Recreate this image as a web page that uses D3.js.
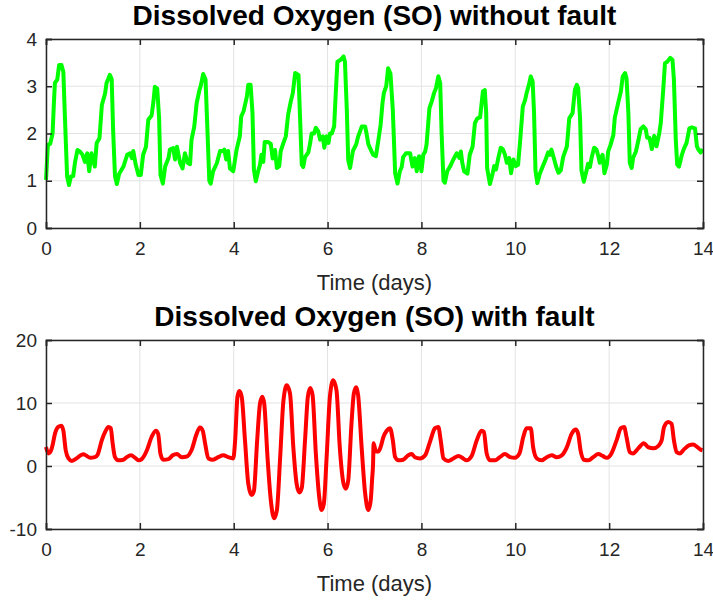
<!DOCTYPE html>
<html>
<head>
<meta charset="utf-8">
<script src="https://cdn.jsdelivr.net/npm/d3@7"></script>
<style>
  body { margin: 0; background: #fff; }
  text { font-family: "Liberation Sans", Arial, sans-serif; fill: #262626; }
</style>
</head>
<body>
<svg id="chart" width="713" height="600"></svg>
<script>
// time (days) and SO values
const normalDays = [0.00,0.04,0.09,0.14,0.17,0.19,0.24,0.28,0.33,0.37,0.40,0.45,0.49,0.53,0.58,0.62,0.67,0.72,0.78,0.83,0.88,0.92,0.97,1.04,1.08,1.14,1.19,1.26,1.29,1.36,1.40,1.43,1.47,1.51,1.56,1.65,1.73,1.79,1.83,1.86,1.91,1.97,2.02,2.07,2.13,2.18,2.25,2.29,2.32,2.37,2.41,2.44,2.49,2.54,2.61,2.64,2.71,2.75,2.79,2.86,2.91,2.96,3.02,3.07,3.10,3.16,3.21,3.27,3.30,3.35,3.40,3.44,3.48,3.51,3.56,3.64,3.71,3.77,3.80,3.84,3.88,3.92,3.99,4.06,4.13,4.16,4.21,4.28,4.31,4.36,4.40,4.43,4.47,4.52,4.56,4.59,4.63,4.66,4.73,4.79,4.83,4.88,4.92,4.97,5.00,5.06,5.11,5.16,5.21,5.26,5.31,5.38,5.41,5.45,5.48,5.52,5.59,5.63,5.66,5.71,5.75,5.80,5.84,5.90,5.93,5.98,6.02,6.05,6.09,6.14,6.18,6.21,6.28,6.34,6.37,6.41,6.44,6.48,6.54,6.61,6.65,6.73,6.80,6.83,6.87,6.92,6.97,7.03,7.08,7.13,7.17,7.20,7.25,7.29,7.34,7.39,7.44,7.49,7.54,7.58,7.61,7.67,7.76,7.81,7.86,7.90,7.95,8.00,8.04,8.08,8.11,8.17,8.22,8.27,8.31,8.36,8.40,8.43,8.47,8.50,8.55,8.61,8.68,8.75,8.81,8.84,8.87,8.91,8.98,9.03,9.09,9.14,9.19,9.25,9.31,9.35,9.38,9.40,9.46,9.51,9.55,9.59,9.64,9.69,9.74,9.78,9.82,9.87,9.91,9.96,10.01,10.06,10.10,10.16,10.21,10.24,10.29,10.33,10.37,10.40,10.43,10.47,10.52,10.58,10.65,10.70,10.74,10.77,10.83,10.87,10.92,10.97,11.02,11.10,11.15,11.22,11.27,11.31,11.34,11.38,11.41,11.46,11.52,11.55,11.59,11.63,11.68,11.73,11.77,11.80,11.86,11.90,11.95,11.98,12.03,12.09,12.12,12.20,12.25,12.29,12.34,12.37,12.41,12.44,12.48,12.51,12.57,12.62,12.67,12.73,12.78,12.81,12.86,12.91,12.96,13.01,13.07,13.10,13.15,13.19,13.24,13.30,13.35,13.38,13.42,13.45,13.49,13.55,13.59,13.65,13.71,13.76,13.83,13.87,13.90,13.95,13.99];
const normalSO = [1.02,1.76,1.78,2.00,2.68,3.07,3.14,3.45,3.45,3.30,2.43,1.09,0.91,1.09,1.10,1.40,1.65,1.62,1.55,1.40,1.58,1.20,1.58,1.30,1.80,1.90,2.60,2.85,3.07,3.24,3.15,2.07,1.10,0.93,1.15,1.30,1.55,1.58,1.48,1.63,1.35,1.12,1.12,1.55,1.72,2.29,2.38,2.68,2.99,2.95,2.33,1.12,0.94,1.30,1.48,1.66,1.69,1.45,1.72,1.37,1.26,1.58,1.38,1.35,1.86,2.15,2.64,2.92,3.02,3.26,3.14,2.07,1.00,0.94,1.20,1.37,1.63,1.63,1.66,1.45,1.63,1.26,1.20,1.65,1.94,2.36,2.47,2.78,3.03,3.03,2.43,1.24,0.99,1.20,1.34,1.55,1.40,1.82,1.82,1.78,1.47,1.65,1.27,1.31,1.62,1.80,1.94,2.40,2.65,2.86,3.28,3.24,2.43,1.34,1.29,1.50,1.60,1.80,2.00,2.00,2.12,2.05,1.87,1.94,1.70,1.94,1.80,2.00,2.00,2.15,2.96,3.52,3.56,3.63,3.52,2.50,1.44,1.27,1.63,1.77,1.93,2.15,2.15,2.00,1.77,1.66,1.55,1.52,1.84,2.18,2.64,2.86,3.00,3.38,3.27,2.50,1.16,0.94,1.20,1.29,1.50,1.58,1.58,1.30,1.48,1.20,1.52,1.20,1.55,1.62,1.77,2.53,2.68,2.86,2.96,3.21,3.07,2.00,1.00,0.96,1.20,1.30,1.45,1.58,1.48,1.62,1.38,1.20,1.15,1.55,1.72,2.22,2.32,2.34,2.89,2.92,2.44,1.27,0.93,1.12,1.31,1.24,1.49,1.70,1.66,1.55,1.38,1.48,1.16,1.45,1.31,1.34,1.80,2.57,2.71,2.85,3.03,3.21,3.10,2.43,1.22,0.95,1.14,1.29,1.46,1.60,1.55,1.66,1.45,1.30,1.17,1.22,1.50,1.73,2.32,2.43,2.92,3.03,2.96,2.33,1.22,0.98,1.22,1.36,1.29,1.50,1.70,1.66,1.52,1.38,1.55,1.16,1.34,1.62,1.76,1.97,2.33,2.68,2.89,3.21,3.28,3.17,2.43,1.38,1.27,1.48,1.62,1.84,2.09,2.15,2.09,1.91,1.91,1.67,1.95,1.73,2.02,2.22,2.89,3.49,3.52,3.60,3.56,3.14,1.87,1.34,1.30,1.55,1.67,1.80,2.11,2.13,2.11,1.73,1.66,1.60,1.67];

const faultDays = [0.00,0.05,0.09,0.14,0.19,0.26,0.33,0.37,0.42,0.48,0.55,0.65,0.72,0.79,0.87,0.94,1.04,1.10,1.19,1.26,1.33,1.38,1.42,1.47,1.54,1.65,1.72,1.81,1.90,1.97,2.04,2.15,2.25,2.34,2.39,2.44,2.50,2.61,2.70,2.79,2.89,3.00,3.10,3.21,3.28,3.34,3.39,3.46,3.56,3.67,3.78,3.88,3.99,4.03,4.08,4.12,4.17,4.24,4.31,4.38,4.43,4.50,4.56,4.61,4.65,4.72,4.79,4.86,4.92,4.99,5.06,5.13,5.20,5.27,5.34,5.40,5.45,5.52,5.58,5.63,5.68,5.75,5.82,5.87,5.92,5.98,6.05,6.12,6.19,6.26,6.34,6.39,6.44,6.51,6.56,6.61,6.65,6.73,6.80,6.87,6.92,6.95,6.97,6.98,7.03,7.08,7.13,7.19,7.26,7.33,7.39,7.44,7.51,7.61,7.72,7.79,7.86,7.97,8.08,8.18,8.29,8.36,8.41,8.47,8.57,8.68,8.79,8.89,8.96,9.07,9.18,9.28,9.33,9.39,9.46,9.57,9.67,9.78,9.89,9.99,10.09,10.17,10.24,10.33,10.38,10.46,10.56,10.67,10.78,10.88,10.99,11.10,11.20,11.29,11.34,11.39,11.46,11.56,11.66,11.77,11.86,11.95,12.05,12.16,12.25,12.32,12.37,12.44,12.51,12.62,12.74,12.83,12.94,13.05,13.12,13.17,13.26,13.33,13.38,13.44,13.51,13.59,13.71,13.79,13.88,13.95,13.99];
const faultSO = [3.0,2.0,2.2,3.3,5.1,6.2,6.4,5.6,2.5,1.2,0.8,1.2,1.6,1.86,1.6,1.3,1.4,1.8,4.1,5.4,6.2,6.0,3.6,1.4,0.9,1.0,1.4,1.7,1.3,0.9,1.1,2.5,4.6,5.6,5.1,1.9,1.0,1.1,1.7,1.9,1.4,1.5,2.5,5.1,6.1,5.6,3.6,1.2,1.0,1.4,1.7,1.4,1.2,4.0,11.0,11.9,11.0,4.1,-2.8,-4.6,-4.0,4.1,9.9,11.0,9.9,1.4,-5.4,-8.3,-7.0,1.4,10.4,12.8,11.5,3.0,-2.8,-4.2,-3.5,4.1,11.0,12.4,11.3,2.0,-4.8,-7.0,-6.0,1.4,11.0,13.6,12.0,3.0,-2.8,-3.6,-2.3,6.8,11.5,12.5,11.3,2.5,-4.3,-7.0,-5.4,-2.0,0.5,3.6,2.3,2.3,3.0,4.6,5.6,6.0,4.1,1.4,0.9,1.0,1.7,1.9,1.4,1.2,1.7,3.8,6.0,6.2,4.1,1.2,0.8,1.2,1.6,1.2,0.9,1.6,4.1,5.6,5.4,2.0,0.9,0.9,1.4,1.9,1.4,1.3,2.0,4.6,6.0,6.0,3.0,1.2,0.9,1.4,1.7,1.4,1.7,3.0,5.1,5.8,5.1,2.5,1.0,0.9,1.4,1.9,1.6,1.3,2.0,4.1,6.0,6.2,4.6,2.2,2.0,2.8,3.6,3.0,2.8,3.2,4.1,6.2,7.0,6.7,4.1,2.2,2.0,2.6,3.3,3.4,3.0,2.6,2.5];

const xTicks = [0, 2, 4, 6, 8, 10, 12, 14];
const topYTicks = [0, 1, 2, 3, 4];
const botYTicks = [-10, 0, 10, 20];

const svg = d3.select('#chart');
const left = 46, right = 703;

const x = d3.scaleLinear().domain([0, 14]).range([left, right]);
const plain = d => String(d);   // MATLAB style labels: "4", "-10"

const panels = [
  { title: 'Dissolved Oxygen (SO) without fault', days: normalDays, so: normalSO,
    domain: [0, 4], yTicks: topYTicks, top: 39, bottom: 228, color: '#00ff00', curve: d3.curveLinear },
  { title: 'Dissolved Oxygen (SO) with fault', days: faultDays, so: faultSO,
    domain: [-10, 20], yTicks: botYTicks, top: 340, bottom: 529, color: '#ff0000', curve: d3.curveMonotoneX }
];

panels.forEach(p => {
  const y = d3.scaleLinear().domain(p.domain).range([p.bottom, p.top]);
  const g = svg.append('g');

  // grid
  g.selectAll('.vgrid').data(xTicks).enter().append('line')
    .attr('x1', d => x(d)).attr('x2', d => x(d))
    .attr('y1', p.top).attr('y2', p.bottom)
    .attr('stroke', '#e3e3e3').attr('stroke-width', 1);
  g.selectAll('.hgrid').data(p.yTicks).enter().append('line')
    .attr('x1', left).attr('x2', right)
    .attr('y1', d => y(d)).attr('y2', d => y(d))
    .attr('stroke', '#e3e3e3').attr('stroke-width', 1);

  // series
  const pts = p.days.map((d, i) => [d, p.so[i]]);
  g.append('path')
    .datum(pts)
    .attr('fill', 'none')
    .attr('stroke', p.color)
    .attr('stroke-width', 4)
    .attr('stroke-linejoin', 'round')
    .attr('d', d3.line().x(d => x(d[0])).y(d => y(d[1])).curve(p.curve));

  // axes (ticks pointing inward, box on)
  const axB = g.append('g').attr('transform', `translate(0,${p.bottom})`)
    .call(d3.axisBottom(x).tickValues(xTicks).tickSize(-6).tickPadding(14).tickFormat(plain));
  const axT = g.append('g').attr('transform', `translate(0,${p.top})`)
    .call(d3.axisTop(x).tickValues(xTicks).tickSize(-6).tickFormat(''));
  const axL = g.append('g').attr('transform', `translate(${left},0)`)
    .call(d3.axisLeft(y).tickValues(p.yTicks).tickSize(-6).tickPadding(9).tickFormat(plain));
  const axR = g.append('g').attr('transform', `translate(${right},0)`)
    .call(d3.axisRight(y).tickValues(p.yTicks).tickSize(-6).tickFormat(''));

  [axB, axT, axL, axR].forEach(a => {
    a.select('.domain').attr('stroke', '#262626').attr('stroke-width', 1.5);
    a.selectAll('.tick line').attr('stroke', '#262626').attr('stroke-width', 1.5);
    a.selectAll('.tick text').attr('font-size', 19).attr('fill', '#262626')
      .style('font-family', '"Liberation Sans", Arial, sans-serif');
  });

  g.append('text')
    .attr('x', (left + right) / 2).attr('y', p.bottom + 62)
    .attr('text-anchor', 'middle')
    .attr('font-size', 22)
    .text('Time (days)');

  g.append('text')
    .attr('x', (left + right) / 2).attr('y', p.top - 14)
    .attr('text-anchor', 'middle')
    .attr('font-size', 28)
    .attr('font-weight', 'bold')
    .style('fill', '#000')
    .text(p.title);
});
</script>
</body>
</html>
